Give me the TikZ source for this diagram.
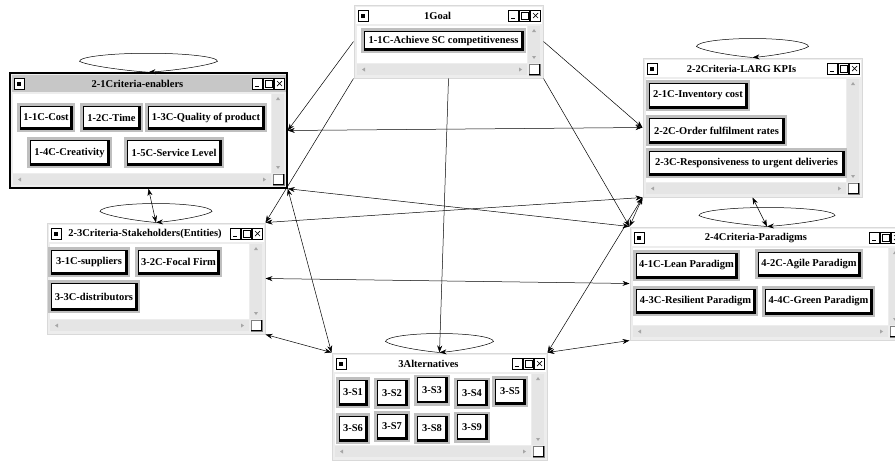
\documentclass[tikz,border=0pt]{standalone}
\usepackage{fontspec}
\setmainfont{Liberation Serif}
\usetikzlibrary{arrows.meta,fit}

\tikzset{
	winplain/.style={draw=black!15, line width=1pt, fill=black!7, inner sep=0pt},
	winsel/.style={draw=black, line width=1.5pt, fill=black!7, inner sep=0pt},
	winplain title/.style={fill=white},
	winsel title/.style={fill=black!22},
	wintitle/.style={font=\fontsize{10.5}{12}\selectfont\bfseries, inner sep=0pt},
	btn/.style={draw=black, line width=0.4pt, fill=white, inner sep=0pt,
		font=\fontsize{10.5}{12}\selectfont\bfseries,
		preaction={draw=black!25, line width=6pt},
		path picture={\draw[line width=4pt] (path picture bounding box.south west) -- (path picture bounding box.south east) -- (path picture bounding box.north east);}},
	conn/.style={draw, line width=0.5pt, ->},
	conn2/.style={draw, line width=0.5pt, <->},
	loopline/.style={draw, line width=0.5pt, ->},
}

% window: name, style, x1, y1, x2, y2, title
\newcommand{\appwin}[7]{%
	\node[#2, fit={(#3,#4) (#5,#6)}] (#1) {};
	\path[#2 title] ({#3+1.5},{#4+1.5}) rectangle ({#5-1.5},{#4+19});
	\fill[white] ({#3+3},{#4+21}) rectangle ({#5-16},{#6-15});
	\fill[black!10] ({#5-15},{#4+21}) rectangle ({#5-3},{#6-15});
	\fill[black!10] ({#3+3},{#6-14}) rectangle ({#5-16},{#6-3});
	\fill[black!35] ({#5-11},{#4+27}) -- ({#5-7},{#4+27}) -- ({#5-9},{#4+24}) -- cycle;
	\fill[black!35] ({#5-11},{#6-22}) -- ({#5-7},{#6-22}) -- ({#5-9},{#6-19}) -- cycle;
	\fill[black!35] ({#3+8},{#6-8.5}) -- ({#3+11},{#6-10.5}) -- ({#3+11},{#6-6.5}) -- cycle;
	\fill[black!35] ({#5-21},{#6-8.5}) -- ({#5-24},{#6-10.5}) -- ({#5-24},{#6-6.5}) -- cycle;
	\draw[black!50, fill=white, line width=0.4pt] ({#5-14},{#6-14}) rectangle ({#5-3},{#6-3});
	\draw[line width=1pt] ({#5-14},{#6-3.5}) -- ({#5-3.5},{#6-3.5}) -- ({#5-3.5},{#6-14});
	\draw[fill=white, line width=0.4pt] ({#3+4},{#4+5}) rectangle ({#3+14},{#4+16});
	\fill ({#3+7},{#4+8.5}) rectangle ({#3+11},{#4+12.5});
	\foreach \k in {0,1,2}
		\draw[fill=white, line width=0.4pt] ({#5-35+11*\k},{#4+5}) rectangle +(10,11);
	\draw[line width=1.2pt] ({#5-32},{#4+13.5}) -- +(4,0);
	\draw[line width=0.5pt] ({#5-21.5},{#4+7.5}) rectangle +(7,7);
	\draw[line width=0.7pt] ({#5-10},{#4+8}) -- +(5,5) ({#5-10},{#4+13}) -- +(5,-5);
	\node[wintitle] (#1-title) at ({(#3+#5)/2-11},{#4+11}) {#7};
}

% self loop on top of a window: anchor, half width
\newcommand{\winloop}[2]{%
	\draw[loopline, shift={(#1)}] (0,0) .. controls ({-0.4*#2},-2) and ({-0.9*#2},-7) .. ({-#2},-11)
		.. controls ({-#2},-15.5) and ({-0.55*#2},-19) .. (0,-19)
		.. controls ({0.55*#2},-19) and ({#2},-15.5) .. ({#2},-11)
		.. controls ({0.9*#2},-7) and ({0.4*#2},-2) .. (0,0);
}

\begin{document}
\begin{tikzpicture}[x=1pt, y=-1pt, >={Stealth[length=7pt, width=5pt]}]
	\useasboundingbox (0,0) rectangle (895,461);

	% windows
	\appwin{goal}{winplain}{354}{5}{543}{78}{1Goal}
	\appwin{enablers}{winsel}{10}{73}{287}{188}{2-1Criteria-enablers}
	\appwin{larg}{winplain}{643}{58}{862}{197}{2-2Criteria-LARG KPIs}
	\appwin{stake}{winplain}{47}{223}{265}{334}{2-3Criteria-Stakeholders(Entities)}
	\appwin{para}{winplain}{630}{227}{904}{340}{2-4Criteria-Paradigms}
	\appwin{alt}{winplain}{332}{353}{547}{460}{3Alternatives}

	% goal
	\node[btn, minimum width=159pt, minimum height=19pt] (g11) at (443.5,40.5) {1-1C-Achieve SC competitiveness};

	% enablers
	\node[btn, minimum width=52pt, minimum height=23pt] (c11) at (46,117.5) {1-1C-Cost};
	\node[btn, minimum width=57pt, minimum height=23pt] (c12) at (111.5,117.5) {1-2C-Time};
	\node[btn, minimum width=116pt, minimum height=23pt] (c13) at (206,117.5) {1-3C-Quality of product};
	\node[btn, minimum width=79pt, minimum height=25pt] (c14) at (69.5,152.5) {1-4C-Creativity};
	\node[btn, minimum width=94pt, minimum height=25pt] (c15) at (174,152.5) {1-5C-Service Level};

	% LARG KPIs
	\node[btn, minimum width=98pt, minimum height=25pt] (k21) at (698,95.5) {2-1C-Inventory cost};
	\node[btn, minimum width=135pt, minimum height=25pt] (k22) at (716.5,130.5) {2-2C-Order fulfilment rates};
	\node[btn, minimum width=195pt, minimum height=24pt] (k23) at (746.5,163) {2-3C-Responsiveness to urgent deliveries};

	% stakeholders
	\node[btn, minimum width=76pt, minimum height=24pt] (s31) at (89,262) {3-1C-suppliers};
	\node[btn, minimum width=81pt, minimum height=24pt] (s32) at (178.5,262) {3-2C-Focal Firm};
	\node[btn, minimum width=86pt, minimum height=27pt] (s33) at (94,296.5) {3-3C-distributors};

	% paradigms
	\node[btn, minimum width=101pt, minimum height=25pt] (p41) at (686.5,265.5) {4-1C-Lean Paradigm};
	\node[btn, minimum width=102pt, minimum height=24pt] (p42) at (809,264) {4-2C-Agile Paradigm};
	\node[btn, minimum width=119pt, minimum height=24pt] (p43) at (695.5,301) {4-3C-Resilient Paradigm};
	\node[btn, minimum width=107pt, minimum height=25pt] (p44) at (818.5,301.5) {4-4C-Green Paradigm};

	% alternatives
	\node[btn, minimum width=28pt, minimum height=25pt] (a1) at (353,392.5) {3-S1};
	\node[btn, minimum width=30pt, minimum height=25pt] (a2) at (392,393) {3-S2};
	\node[btn, minimum width=30pt, minimum height=25pt] (a3) at (432,390) {3-S3};
	\node[btn, minimum width=30pt, minimum height=25pt] (a4) at (472,393) {3-S4};
	\node[btn, minimum width=30pt, minimum height=25pt] (a5) at (510,391.5) {3-S5};
	\node[btn, minimum width=28pt, minimum height=25pt] (a6) at (353,428.5) {3-S6};
	\node[btn, minimum width=30pt, minimum height=25pt] (a7) at (392,426.5) {3-S7};
	\node[btn, minimum width=30pt, minimum height=25pt] (a8) at (432,428.5) {3-S8};
	\node[btn, minimum width=30pt, minimum height=25pt] (a9) at (472,427) {3-S9};

	% self loops
	\winloop{enablers.north}{69}
	\winloop{larg.north}{56}
	\winloop{stake.north}{56}
	\winloop{para.north}{68}
	\winloop{alt.north}{54}

	% goal links
	\draw[conn] (goal.west) -- (enablers.east);
	\draw[conn] (goal.south west) -- (stake.north east);
	\draw[conn] (goal.south) -- (alt.north);
	\draw[conn] (goal.south east) -- (para.north west);
	\draw[conn] (goal.east) -- (larg.west);

	% criteria links
	\draw[conn2] (enablers.east) -- (larg.west);
	\draw[conn2] (enablers.south east) -- (para.north west);
	\draw[conn2] (enablers.south east) -- (alt.north west);
	\draw[conn2] (enablers.south) -- (stake.north);
	\draw[conn2] (stake.north east) -- (larg.south west);
	\draw[conn2] (stake.east) -- (para.west);
	\draw[conn2] (stake.south east) -- (alt.north west);
	\draw[conn2] (larg.south) -- (para.north);
	\draw[conn2] (larg.south west) -- (para.north west);
	\draw[conn2] (larg.south west) -- (alt.north east);
	\draw[conn2] (para.south west) -- (alt.north east);
\end{tikzpicture}
\end{document}
